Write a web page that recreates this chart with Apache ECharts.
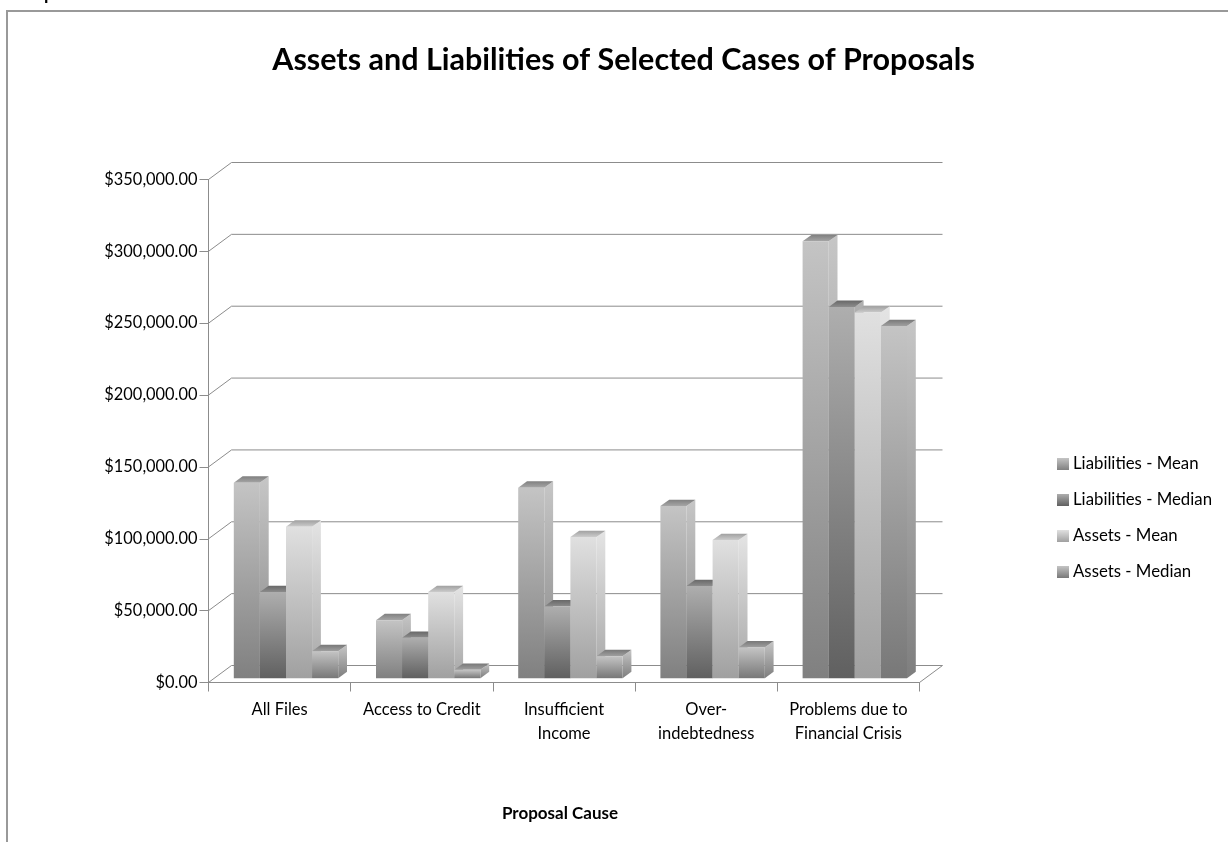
<!DOCTYPE html>
<html><head><meta charset="utf-8">
<style>html,body{margin:0;padding:0;background:#fff}#c{width:1228px;height:842px}</style>
<script src="https://cdn.jsdelivr.net/npm/echarts@6/dist/echarts.min.js"></script>
</head><body><div id="c"></div>
<script>
const categories = ['All Files','Access to Credit','Insufficient\nIncome','Over-\nindebtedness','Problems due to\nFinancial Crisis'];
const liabilitiesMean   = [136000, 40400, 132600, 119800, 304000];
const liabilitiesMedian = [59900, 28100, 49900, 64100, 258300];
const assetsMean        = [105400, 59900, 98200, 96100, 254400];
const assetsMedian      = [18800, 5800, 15300, 21400, 245000];
const seriesNames = ['Liabilities - Mean','Liabilities - Median','Assets - Mean','Assets - Median'];
const yTicks = [0,50000,100000,150000,200000,250000,300000,350000];

const FONT = 'Lato, Carlito, sans-serif';
const grad = (a,b)=>new echarts.graphic.LinearGradient(0,0,0,1,[{offset:0,color:a},{offset:1,color:b}]);
const shades = [
  {front:['#c4c4c4','#808080'], side:['#c6c6c6','#868686'], top:['#808080','#a6a6a6']},
  {front:['#aeaeae','#606060'], side:['#b0b0b0','#666666'], top:['#686868','#8c8c8c']},
  {front:['#e0e0e0','#a0a0a0'], side:['#e4e4e4','#a6a6a6'], top:['#a0a0a0','#cccccc']},
  {front:['#c4c4c4','#787878'], side:['#c6c6c6','#7e7e7e'], top:['#787878','#a0a0a0']}
];
const depth = {x:23, y:17};        // plot-wall depth
const barDepth = {x:8.8, y:6.4};
const barPlane = {x:6.4, y:4.3};   // bars stand a little behind the front plane
const barW = 26.1;

function barRender(si){
  return function(params, api){
    const cat = api.value(0), v = api.value(1);
    const t = api.coord([cat, v]), b = api.coord([cat, 0]);
    const x0 = t[0] + barPlane.x - 2*barW + si*barW;
    const x1 = x0 + barW;
    const yt = t[1] - barPlane.y, yb = b[1] - barPlane.y;
    const dx = barDepth.x, dy = barDepth.y;
    const s = shades[si];
    return {type:'group', children:[
      {type:'polygon', shape:{points:[[x1,yt],[x1+dx,yt-dy],[x1+dx,yb-dy],[x1,yb]]}, style:{fill:grad(s.side[0],s.side[1])}},
      {type:'polygon', shape:{points:[[x0,yt],[x0+dx,yt-dy],[x1+dx,yt-dy],[x1,yt]]}, style:{fill:grad(s.top[0],s.top[1])}},
      {type:'rect', shape:{x:x0,y:yt,width:barW,height:yb-yt}, style:{fill:grad(s.front[0],s.front[1])}}
    ]};
  };
}
function wallRender(params, api){
  const v = api.value(0);
  const l = api.coord([0, v]);
  const cs = params.coordSys;
  const y = l[1], xl = cs.x, xr = cs.x + cs.width;
  const st = {stroke:'#8c8c8c', lineWidth:1, fill:'none'};
  const kids = [
    {type:'line', shape:{x1:xl,y1:y,x2:xl+depth.x,y2:y-depth.y}, style:st},
    {type:'line', shape:{x1:xl+depth.x,y1:y-depth.y,x2:xr+depth.x,y2:y-depth.y}, style:st}
  ];
  if (v === 0) kids.push({type:'line', shape:{x1:xr,y1:y,x2:xr+depth.x,y2:y-depth.y}, style:st});
  return {type:'group', children:kids};
}

const allValues = [liabilitiesMean, liabilitiesMedian, assetsMean, assetsMedian];
const option = {
  backgroundColor:'#fff',
  animation:false,
  title:{text:'Assets and Liabilities of Selected Cases of Proposals', left:618.5, top:40, textAlign:'center',
    textStyle:{fontFamily:FONT, fontWeight:'bold', fontSize:30.5, color:'#000'}},
  legend:{orient:'vertical', left:1052, top:450, itemWidth:12, itemHeight:12, itemGap:18,
    data:seriesNames.map((n,i)=>({name:n, icon:'rect', itemStyle:{color:grad(shades[i].front[0],shades[i].front[1])}})),
    textStyle:{fontFamily:FONT, fontSize:16.8, color:'#000', padding:[0,0,0,-1], lineHeight:18}},
  grid:{left:208.5, top:179.5, width:711, height:503, containLabel:false},
  xAxis:{type:'category', data:categories,
    name:'Proposal Cause', nameLocation:'middle', nameGap:123,
    nameTextStyle:{fontFamily:FONT, fontWeight:'bold', fontSize:17, color:'#000', padding:[0,8,0,0]},
    axisLine:{show:true, lineStyle:{color:'#8c8c8c'}},
    axisTick:{show:true, alignWithLabel:false, length:9, lineStyle:{color:'#8c8c8c'}},
    axisLabel:{fontFamily:FONT, fontSize:16.5, color:'#000', margin:15, lineHeight:24, interval:0}},
  yAxis:{type:'value', min:0, max:350000, interval:50000,
    axisLine:{show:true, lineStyle:{color:'#8c8c8c'}},
    axisTick:{show:true, length:9, lineStyle:{color:'#8c8c8c'}},
    splitLine:{show:false},
    axisLabel:{fontFamily:FONT, fontSize:16.4, color:'#000', margin:11,
      formatter:v=>'$'+v.toLocaleString('en-US',{minimumFractionDigits:2,maximumFractionDigits:2})}},
  graphic:[
    {type:'polyline', silent:true, shape:{points:[[7,842],[7,11],[1228,11]]}, style:{stroke:'#999999', lineWidth:2, fill:'none'}},
    {type:'text', silent:true, left:44, top:-15, style:{text:'p', fontFamily:FONT, fontWeight:'bold', fontSize:18, fill:'#000'}}
  ],
  series:[
    {type:'custom', name:'walls', z:1, silent:true, renderItem:wallRender,
     data:yTicks.map(v=>[v]), encode:{y:0}, tooltip:{show:false}},
    ...seriesNames.map((n,i)=>({
      type:'custom', name:n, z:2, renderItem:barRender(i),
      itemStyle:{color:shades[i].front[1]},
      data:allValues[i].map((v,c)=>[c,v]), encode:{x:0,y:1}
    }))
  ]
};
const chart = echarts.init(document.getElementById('c'));
chart.setOption(option);
</script></body></html>
